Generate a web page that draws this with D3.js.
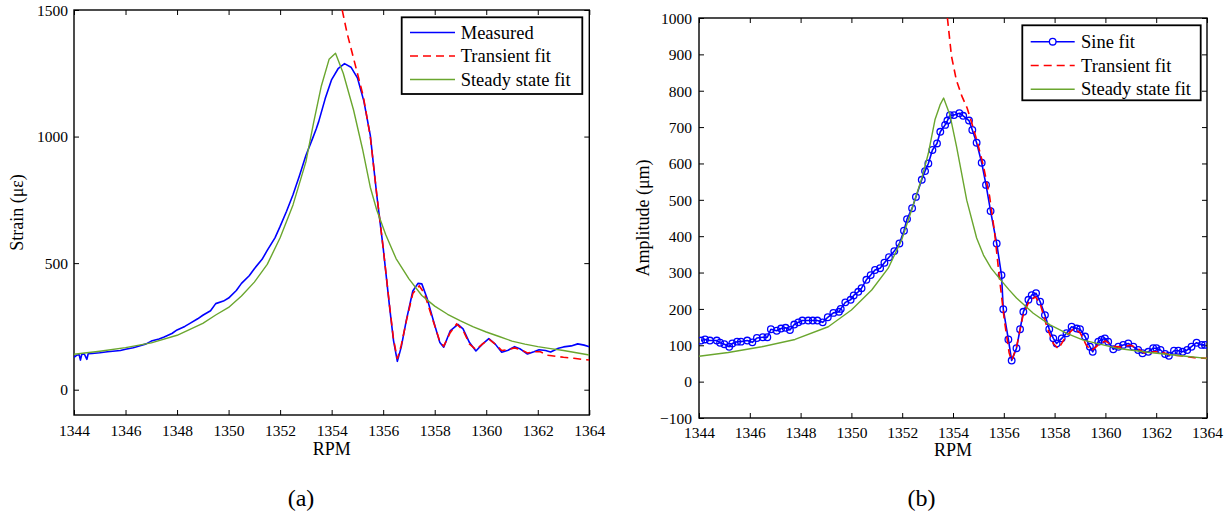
<!DOCTYPE html>
<html>
<head>
<meta charset="utf-8">
<script src="https://cdn.jsdelivr.net/npm/d3@7"></script>
<style>
  html, body { margin: 0; padding: 0; background: #ffffff; }
  svg { display: block; }
  text { font-family: "Liberation Serif", "Times New Roman", "DejaVu Serif", serif; fill: #000; }
</style>
</head>
<body>
<svg id="chart" width="1230" height="518"></svg>
<script>
// ---------------- DATA ----------------
const rpmTicks = [1344, 1346, 1348, 1350, 1352, 1354, 1356, 1358, 1360, 1362, 1364];
const strainTicks = [0, 500, 1000, 1500];
const ampTicks = [-100, 0, 100, 200, 300, 400, 500, 600, 700, 800, 900, 1000];

const legendA = ["Measured", "Transient fit", "Steady state fit"];
const legendB = ["Sine fit", "Transient fit", "Steady state fit"];

// Panel (a): [RPM, strain (µε)]
const measuredA = [
  [1344.0,128],[1344.1,136],[1344.2,138],[1344.25,117],[1344.3,139],[1344.4,141],[1344.5,120],[1344.55,142],
  [1344.7,143],[1345.0,146],[1345.3,150],[1345.5,152],[1345.8,155],[1346.0,160],[1346.3,166],[1346.5,172],
  [1346.8,181],[1347.0,192],[1347.3,200],[1347.5,208],[1347.8,222],[1348.0,236],[1348.3,250],[1348.5,262],
  [1348.8,280],[1349.0,294],[1349.3,312],[1349.5,340],[1349.8,350],[1350.0,362],[1350.3,392],[1350.5,420],
  [1350.8,450],[1351.0,478],[1351.3,515],[1351.5,550],[1351.8,600],[1352.0,645],[1352.25,705],[1352.5,770],
  [1352.75,845],[1353.0,925],[1353.25,990],[1353.4,1030],[1353.5,1060],[1353.75,1150],[1354.0,1225],[1354.25,1268],
  [1354.5,1288],[1354.75,1274],[1355.0,1232],[1355.25,1140],[1355.5,1005],[1355.75,770],[1356.0,560],
  [1356.25,325],[1356.4,195],[1356.55,112],[1356.7,168],[1356.9,275],[1357.15,390],[1357.35,420],
  [1357.5,418],[1357.7,362],[1357.95,272],[1358.2,186],[1358.35,168],[1358.6,232],[1358.9,258],
  [1359.1,240],[1359.35,186],[1359.6,153],[1359.85,180],[1360.1,202],[1360.35,180],[1360.6,148],
  [1360.85,156],[1361.1,170],[1361.3,162],[1361.6,141],[1361.85,150],[1362.05,158],[1362.3,155],
  [1362.5,149],[1362.8,164],[1363.0,169],[1363.3,173],[1363.55,181],[1363.8,176],[1364.0,170]
];
const transientA = [
  [1354.41,1500],[1354.6,1408],[1354.8,1329],[1355.0,1250],[1355.23,1158],[1355.5,1000],[1355.75,772],
  [1356.0,560],[1356.25,330],[1356.4,200],[1356.55,122],[1356.7,175],[1356.9,272],[1357.15,380],
  [1357.4,410],[1357.6,380],[1357.95,268],[1358.2,190],[1358.35,172],[1358.6,225],[1358.85,260],
  [1359.1,235],[1359.35,180],[1359.6,158],[1359.85,180],[1360.1,200],[1360.35,180],[1360.6,155],
  [1360.85,158],[1361.1,165],[1361.35,158],[1361.6,145],[1361.85,150],[1362.1,150],[1362.4,136],
  [1362.7,132],[1363.0,128],[1363.4,124],[1363.7,120],[1364.0,117]
];
const steadyA = [
  [1344.0,140],[1345.0,152],[1346.0,166],[1347.0,185],[1348.0,215],[1349.0,262],[1349.5,295],
  [1350.0,325],[1350.5,370],[1351.0,425],[1351.5,495],[1352.0,600],[1352.5,730],[1353.0,900],
  [1353.3,1055],[1353.6,1200],[1353.9,1305],[1354.15,1329],[1354.45,1250],[1354.85,1105],
  [1355.2,950],[1355.5,800],[1355.75,710],[1356.1,612],[1356.5,518],[1357.0,438],[1357.5,372],
  [1358.0,330],[1358.5,298],[1359.0,272],[1359.5,248],[1360.0,228],[1360.5,210],[1361.0,192],
  [1361.5,180],[1362.0,170],[1362.5,162],[1363.0,155],[1363.5,146],[1364.0,137]
];

// Panel (b): [RPM, amplitude (µm)]
const sineFitB = [
  [1344.08,113],[1344.24,116],[1344.43,113],[1344.70,113],[1344.83,107],[1345.00,103],[1345.19,96],
  [1345.31,105],[1345.50,110],[1345.65,110],[1345.90,113],[1346.10,108],[1346.28,120],[1346.51,122],
  [1346.69,122],[1346.83,144],[1347.06,140],[1347.23,146],[1347.41,148],[1347.58,142],[1347.75,157],
  [1347.91,163],[1348.07,168],[1348.30,168],[1348.48,168],[1348.66,168],[1348.87,163],[1349.07,177],
  [1349.29,189],[1349.51,192],[1349.58,200],[1349.76,218],[1349.97,225],[1350.09,237],[1350.27,247],
  [1350.40,257],[1350.59,280],[1350.76,293],[1350.93,307],[1351.13,312],[1351.30,327],[1351.48,342],
  [1351.69,359],[1351.89,380],[1352.07,415],[1352.19,447],[1352.39,477],[1352.54,508],[1352.77,555],
  [1352.90,579],[1353.03,600],[1353.19,637],[1353.37,655],[1353.50,687],[1353.69,706],[1353.78,718],
  [1353.88,733],[1354.04,733],[1354.25,738],[1354.40,731],[1354.63,718],[1354.76,692],[1354.93,657],
  [1355.13,602],[1355.30,541],[1355.48,469],[1355.72,380],[1355.91,293],[1355.98,199],[1356.18,116],
  [1356.31,58],[1356.50,92],[1356.64,144],[1356.77,192],[1356.97,225],[1357.10,238],[1357.27,243],
  [1357.43,220],[1357.62,183],[1357.79,144],[1357.95,119],[1358.08,105],[1358.28,119],[1358.47,133],
  [1358.67,151],[1358.87,146],[1359.00,144],[1359.20,124],[1359.39,96],[1359.50,82],[1359.72,110],
  [1359.85,115],[1359.98,119],[1360.11,110],[1360.31,89],[1360.51,96],[1360.70,101],[1360.90,105],
  [1361.10,96],[1361.29,87],[1361.46,78],[1361.69,82],[1361.88,92],[1362.01,92],[1362.17,87],
  [1362.35,76],[1362.50,71],[1362.70,85],[1362.87,85],[1363.04,82],[1363.22,87],[1363.39,96],
  [1363.59,107],[1363.79,101],[1363.92,101]
];
const transientB = [
  [1353.78,1000],[1353.94,895],[1354.13,830],[1354.35,785],[1354.56,752],[1354.74,711],[1354.97,656],
  [1355.20,592],[1355.44,510],[1355.64,409],[1355.82,290],[1356.02,170],[1356.21,79],[1356.31,58],
  [1356.50,95],[1356.75,180],[1357.00,222],[1357.25,233],[1357.45,210],[1357.70,150],[1357.95,105],
  [1358.15,90],[1358.45,125],[1358.75,146],[1359.00,135],[1359.25,100],[1359.45,85],[1359.70,100],
  [1360.00,112],[1360.30,97],[1360.60,95],[1361.00,100],[1361.30,90],[1361.60,76],[1361.90,82],
  [1362.20,82],[1362.50,74],[1362.80,72],[1363.10,70],[1363.50,66],[1364.00,64]
];
const steadyB = [
  [1344.0,70],[1345.15,80],[1346.47,96],[1347.78,116],[1349.09,151],[1350.0,197],[1350.8,252],
  [1351.45,312],[1351.98,390],[1352.37,472],[1352.77,559],[1353.03,628],[1353.29,720],[1353.49,761],
  [1353.63,780],[1353.88,733],[1354.14,646],[1354.54,499],[1354.93,395],[1355.2,348],[1355.5,312],
  [1355.85,282],[1356.2,253],[1356.5,230],[1357.16,188],[1357.82,156],[1358.5,132],[1359.13,114],
  [1360.44,92],[1361.75,80],[1363.07,70.5],[1364.0,64]
];

// ---------------- DRAWING ----------------
const svg = d3.select("#chart");
const BLUE = "#0000ff", RED = "#ff0000", GREEN = "#6aa62e";
const TICK_FONT = "15.5px", LABEL_FONT = "18px", LEGEND_FONT = "18.5px";

function panel(cfg) {
  const g = svg.append("g");
  const x = d3.scaleLinear().domain([1344, 1364]).range([cfg.left, cfg.right]);
  const y = d3.scaleLinear().domain(cfg.yDomain).range([cfg.bottom, cfg.top]);

  const clipId = "clip" + cfg.id;
  svg.append("defs").append("clipPath").attr("id", clipId)
    .append("rect").attr("x", cfg.left).attr("y", cfg.top)
    .attr("width", cfg.right - cfg.left).attr("height", cfg.bottom - cfg.top);

  const tickLen = 5;
  const fmt = v => (v < 0 ? "\u2212" + Math.abs(v) : String(v));

  const xb = g.append("g").attr("transform", `translate(0,${cfg.bottom})`)
    .call(d3.axisBottom(x).tickValues(rpmTicks).tickSize(-tickLen).tickSizeOuter(0).tickPadding(0).tickFormat(d3.format("d")));
  xb.select(".domain").remove();
  xb.selectAll("text").attr("y", cfg.xLabelBaseline - cfg.bottom).attr("dy", 0)
    .style("font-size", TICK_FONT);
  const xt = g.append("g").attr("transform", `translate(0,${cfg.top})`)
    .call(d3.axisTop(x).tickValues(rpmTicks).tickSize(-tickLen).tickSizeOuter(0).tickFormat(""));
  xt.select(".domain").remove();
  const yl = g.append("g").attr("transform", `translate(${cfg.left},0)`)
    .call(d3.axisLeft(y).tickValues(cfg.yTicks).tickSize(-tickLen).tickSizeOuter(0).tickPadding(cfg.yPad).tickFormat(fmt));
  yl.select(".domain").remove();
  yl.selectAll("text").style("font-size", TICK_FONT).attr("dy", "0.34em");
  const yr = g.append("g").attr("transform", `translate(${cfg.right},0)`)
    .call(d3.axisRight(y).tickValues(cfg.yTicks).tickSize(-tickLen).tickSizeOuter(0).tickFormat(""));
  yr.select(".domain").remove();
  g.selectAll(".tick line").attr("stroke", "#000").attr("stroke-width", 1);

  g.append("rect").attr("x", cfg.left).attr("y", cfg.top)
    .attr("width", cfg.right - cfg.left).attr("height", cfg.bottom - cfg.top)
    .attr("fill", "none").attr("stroke", "#000").attr("stroke-width", 1.4);

  const line = d3.line().x(d => x(d[0])).y(d => y(d[1]));
  const plot = g.append("g").attr("clip-path", `url(#${clipId})`);
  plot.append("path").datum(cfg.s1).attr("d", line)
    .attr("fill", "none").attr("stroke", BLUE).attr("stroke-width", 1.6).attr("stroke-linejoin", "round");
  if (cfg.markers) {
    plot.selectAll("circle.m").data(cfg.s1).enter().append("circle")
      .attr("class", "m").attr("cx", d => x(d[0])).attr("cy", d => y(d[1])).attr("r", 3.3)
      .attr("fill", "none").attr("stroke", BLUE).attr("stroke-width", 1.3);
  }
  plot.append("path").datum(cfg.s2).attr("d", line)
    .attr("fill", "none").attr("stroke", RED).attr("stroke-width", 1.6).attr("stroke-dasharray", "8,5");
  plot.append("path").datum(cfg.s3).attr("d", line)
    .attr("fill", "none").attr("stroke", GREEN).attr("stroke-width", 1.4).attr("stroke-linejoin", "round");

  g.append("text").attr("x", (cfg.left + cfg.right) / 2).attr("y", cfg.rpmBaseline)
    .attr("text-anchor", "middle").style("font-size", LABEL_FONT).text("RPM");
  g.append("text").attr("transform", `translate(${cfg.yLabelX},${(cfg.top + cfg.bottom) / 2}) rotate(-90)`)
    .attr("text-anchor", "middle").attr("dy", "0.35em").style("font-size", LABEL_FONT).text(cfg.yLabel);
  g.append("text").attr("x", cfg.captionX).attr("y", 506)
    .attr("text-anchor", "middle").style("font-size", "24px").text(cfg.caption);

  const L = cfg.legend;
  g.append("rect").attr("x", L.x0).attr("y", L.y0).attr("width", L.x1 - L.x0).attr("height", L.y1 - L.y0)
    .attr("fill", "#fff").attr("stroke", "#000").attr("stroke-width", 1.8);
  const styles = [
    { c: BLUE, w: 1.6, dash: null },
    { c: RED, w: 1.6, dash: "8,5" },
    { c: GREEN, w: 1.4, dash: null }
  ];
  cfg.legendNames.forEach((name, i) => {
    const yy = L.rows[i];
    const ln = g.append("line").attr("x1", L.lx0).attr("x2", L.lx1).attr("y1", yy).attr("y2", yy)
      .attr("stroke", styles[i].c).attr("stroke-width", styles[i].w);
    if (styles[i].dash) ln.attr("stroke-dasharray", styles[i].dash);
    if (i === 0 && cfg.markers) {
      g.append("circle").attr("cx", (L.lx0 + L.lx1) / 2).attr("cy", yy).attr("r", 3.3)
        .attr("fill", "#fff").attr("stroke", BLUE).attr("stroke-width", 1.3);
    }
    g.append("text").attr("x", L.tx).attr("y", yy).attr("dy", "0.33em")
      .style("font-size", LEGEND_FONT).text(name);
  });
}

panel({
  id: "a", left: 74, right: 589.3, top: 10, bottom: 415,
  yDomain: [-100, 1500], yTicks: strainTicks, yPad: 6,
  xLabelBaseline: 436, rpmBaseline: 455, yLabelX: 17, yLabel: "Strain (\u03bc\u03b5)",
  captionX: 301, caption: "(a)",
  s1: measuredA, s2: transientA, s3: steadyA, markers: false,
  legendNames: legendA,
  legend: { x0: 401.7, x1: 582.3, y0: 17.3, y1: 94, lx0: 410, lx1: 455, tx: 460.7, rows: [32.5, 56, 79.5] }
});

panel({
  id: "b", left: 699, right: 1207, top: 18, bottom: 418,
  yDomain: [-100, 1000], yTicks: ampTicks, yPad: 7,
  xLabelBaseline: 437.5, rpmBaseline: 456, yLabelX: 643, yLabel: "Amplitude (\u03bcm)",
  captionX: 921.6, caption: "(b)",
  s1: sineFitB, s2: transientB, s3: steadyB, markers: true,
  legendNames: legendB,
  legend: { x0: 1022.3, x1: 1200.7, y0: 25.3, y1: 100.3, lx0: 1030.7, lx1: 1074.7, tx: 1081, rows: [41.7, 65.5, 89.3] }
});
</script>
</body>
</html>
